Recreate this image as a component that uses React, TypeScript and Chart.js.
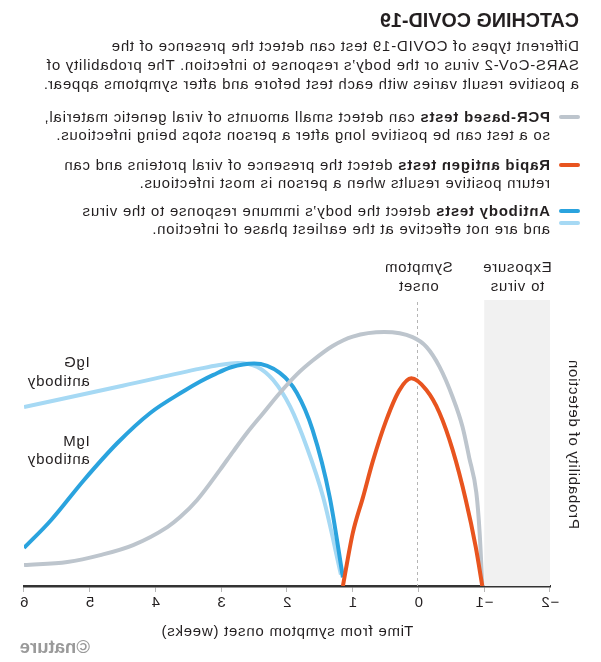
import React, { useEffect, useLayoutEffect, useRef } from "react";
import { Chart, registerables } from "chart.js";
Chart.register(...registerables);

// ---------- data ----------
const xTickValues = [-2, -1, 0, 1, 2, 3, 4, 5, 6];
const xTickLabels = ["−2", "−1", "0", "1", "2", "3", "4", "5", "6"];

const pcrWeeks = [-0.97, -0.93, -0.88, -0.77, -0.67, -0.52, -0.32, -0.12, 0.09, 0.52, 1.0, 1.3, 1.6, 1.85, 2.11, 2.36, 2.61, 2.82, 3.02, 3.37, 3.63, 3.82, 4.34, 4.84, 5.34, 6.0];
const pcrProb = [0.0, 0.185, 0.325, 0.45, 0.556, 0.66, 0.766, 0.836, 0.87, 0.888, 0.872, 0.84, 0.79, 0.74, 0.675, 0.605, 0.535, 0.47, 0.406, 0.3, 0.24, 0.206, 0.143, 0.108, 0.084, 0.073];

const antigenWeeks = [-0.97, -0.87, -0.72, -0.52, -0.32, -0.12, 0.11, 0.29, 0.49, 0.69, 0.845, 1.0, 1.15];
const antigenProb = [0.0, 0.137, 0.3, 0.475, 0.605, 0.685, 0.726, 0.685, 0.58, 0.44, 0.31, 0.185, 0.0];

const igmWeeks = [1.15, 1.35, 1.61, 1.85, 2.11, 2.5, 2.85, 3.12, 3.32, 3.58, 4.08, 4.58, 5.09, 5.59, 6.0];
const igmProb = [0.03, 0.31, 0.545, 0.675, 0.745, 0.778, 0.765, 0.738, 0.715, 0.68, 0.605, 0.5, 0.37, 0.23, 0.133];

const iggWeeks = [1.18, 1.45, 1.7, 1.95, 2.21, 2.45, 2.75, 3.05, 3.32, 4.5, 6.0];
const iggProb = [0.04, 0.31, 0.486, 0.626, 0.72, 0.766, 0.78, 0.772, 0.76, 0.7, 0.626];

const titleText = "CATCHING COVID-19";
const introLines = [
  "Different types of COVID-19 test can detect the presence of the",
  "SARS-CoV-2 virus or the body’s response to infection. The probability of",
  "a positive result varies with each test before and after symptoms appear.",
];
const legendItems = [
  { bold: "PCR-based tests", rest: " can detect small amounts of viral genetic material,", line2: "so a test can be positive long after a person stops being infectious." },
  { bold: "Rapid antigen tests", rest: " detect the presence of viral proteins and can", line2: "return positive results when a person is most infectious." },
  { bold: "Antibody tests", rest: " detect the body’s immune response to the virus", line2: "and are not effective at the earliest phase of infection." },
];

const C_PCR = "#bdc5cd";
const C_ANT = "#e8541f";
const C_IGM = "#2aa3de";
const C_IGG = "#a6d9f4";
const TXT = "#231f20";
const FONT = "'Liberation Sans', Arial, Helvetica, sans-serif";
const LS = "0.75px";

const toPts = (xs: number[], ys: number[]) => xs.map((x, i) => ({ x, y: ys[i] }));

const overlayPlugin = {
  id: "overlay",
  beforeDraw(chart: any) {
    (chart.ctx as any).letterSpacing = LS;
  },
  beforeDatasetsDraw(chart: any) {
    const { ctx, chartArea, scales } = chart;
    const xs = scales.x;
    ctx.save();
    const x1 = xs.getPixelForValue(-2);
    const x2 = xs.getPixelForValue(-1);
    ctx.fillStyle = "#f1f1f1";
    ctx.fillRect(x1, chartArea.top, x2 - x1, chartArea.bottom - chartArea.top);
    const x0 = Math.round(xs.getPixelForValue(0)) + 0.5;
    ctx.strokeStyle = "#b5b5b5";
    ctx.lineWidth = 1;
    ctx.setLineDash([3, 3]);
    ctx.beginPath();
    ctx.moveTo(x0, chartArea.top + 2);
    ctx.lineTo(x0, chartArea.bottom);
    ctx.stroke();
    ctx.restore();
  },
  afterDraw(chart: any) {
    const { ctx, chartArea, scales } = chart;
    const xs = scales.x;
    const ys = scales.y;
    ctx.save();
    (ctx as any).letterSpacing = LS;
    ctx.fillStyle = TXT;
    ctx.font = `15px ${FONT}`;
    ctx.textBaseline = "middle";
    ctx.textAlign = "center";
    const xs0 = xs.getPixelForValue(0);
    ctx.fillText("Symptom", xs0, chartArea.top - 32);
    ctx.fillText("onset", xs0, chartArea.top - 13);
    const xe = xs.getPixelForValue(-1.5);
    ctx.fillText("Exposure", xe, chartArea.top - 32);
    ctx.fillText("to virus", xe, chartArea.top - 13);
    ctx.textAlign = "left";
    const xl = xs.getPixelForValue(5);
    const yG = ys.getPixelForValue(0.78);
    ctx.fillText("IgG", xl, yG);
    ctx.fillText("antibody", xl, yG + 19);
    const yM = ys.getPixelForValue(0.504);
    ctx.fillText("IgM", xl, yM);
    ctx.fillText("antibody", xl, yM + 18);
    // y-axis title
    ctx.translate(28, (chartArea.top + chartArea.bottom) / 2 + 1);
    ctx.rotate(-Math.PI / 2);
    ctx.textAlign = "center";
    ctx.fillText("Probability of detection", 0, 0);
    ctx.restore();
  },
};

function ChartCanvas() {
  const ref = useRef<HTMLCanvasElement | null>(null);
  useEffect(() => {
    if (!ref.current) return;
    const common = {
      showLine: true,
      pointRadius: 0,
      borderWidth: 4,
      fill: false,
      cubicInterpolationMode: "monotone" as const,
      borderJoinStyle: "round" as const,
    };
    const chart = new Chart(ref.current, {
      type: "line",
      data: {
        datasets: [
          { ...common, label: "Rapid antigen", data: toPts(antigenWeeks, antigenProb), borderColor: C_ANT, order: 0 },
          { ...common, label: "PCR", data: toPts(pcrWeeks, pcrProb), borderColor: C_PCR, order: 1 },
          { ...common, label: "IgM", data: toPts(igmWeeks, igmProb), borderColor: C_IGM, order: 2 },
          { ...common, label: "IgG", data: toPts(iggWeeks, iggProb), borderColor: C_IGG, order: 3 },
        ],
      },
      options: {
        animation: false,
        responsive: false,
        events: [],
        layout: { padding: { left: 51, right: 24, top: 300, bottom: 0 } },
        plugins: { legend: { display: false }, tooltip: { enabled: false } },
        scales: {
          x: {
            type: "linear",
            min: -2,
            max: 6,
            afterFit(scale: any) {
              scale.height = 76;
            },
            afterBuildTicks(scale: any) {
              scale.ticks = xTickValues.map((v) => ({ value: v }));
            },
            ticks: {
              font: { size: 15, family: FONT },
              color: TXT,
              padding: 2,
              maxRotation: 0,
              autoSkip: false,
              callback: (v: any) => {
                const i = xTickValues.indexOf(Number(v));
                return i >= 0 ? xTickLabels[i] : "";
              },
            },
            grid: { display: true, drawOnChartArea: false, drawTicks: true, tickLength: 6, color: "#b8b8b8", lineWidth: 1 },
            border: { display: true, color: "#333333", width: 2.5 },
            title: {
              display: true,
              text: "Time from symptom onset (weeks)",
              font: { size: 15, family: FONT },
              color: TXT,
              padding: { top: 0, bottom: 21 },
            },
          },
          y: { display: false, min: 0, max: 1 },
        },
      },
      plugins: [overlayPlugin],
    });
    return () => chart.destroy();
  }, []);
  return <canvas ref={ref} width={601} height={662} style={{ position: "absolute", left: 0, top: 0, width: 601, height: 662 }} />;
}

function FitText({ width, style, children }: { width: number; style: any; children: any }) {
  const ref = useRef<HTMLDivElement | null>(null);
  useLayoutEffect(() => {
    const el = ref.current;
    if (!el) return;
    el.style.transform = "none";
    const w = el.offsetWidth;
    if (w > 0) el.style.transform = `scaleX(${width / w})`;
  }, [width]);
  return (
    <div ref={ref} style={{ ...style, display: "inline-block", transformOrigin: "0 0", whiteSpace: "nowrap" }}>
      {children}
    </div>
  );
}

export default function App() {
  const bodyText = { fontSize: 15, letterSpacing: LS, whiteSpace: "nowrap" as const };
  return (
    <div
      style={{
        position: "fixed",
        left: 0,
        top: 0,
        width: 601,
        height: 662,
        background: "#fff",
        transform: "scaleX(-1)",
        fontFamily: FONT,
        color: TXT,
        overflow: "hidden",
      }}
    >
      <ChartCanvas />
      <div style={{ position: "absolute", left: 22, top: 6 }}>
        <FitText width={199} style={{ fontFamily: FONT, fontWeight: 700, fontSize: 20, lineHeight: "28px", letterSpacing: "0px" }}>
          {titleText}
        </FitText>
      </div>
      <div style={{ position: "absolute", left: 22, top: 35.5, lineHeight: "19px", ...bodyText }}>
        {introLines.map((l, i) => (
          <div key={i}>{l}</div>
        ))}
      </div>
      {legendItems.map((it, i) => {
        const top = [108, 156, 202][i];
        return (
          <div key={i} style={{ position: "absolute", left: 51, top, lineHeight: "18px", ...bodyText }}>
            <div>
              <b>{it.bold}</b>
              {it.rest}
            </div>
            <div>{it.line2}</div>
          </div>
        );
      })}
      <div style={{ position: "absolute", left: 21, top: 115, width: 21, height: 4, borderRadius: 2, background: C_PCR }} />
      <div style={{ position: "absolute", left: 21, top: 163, width: 21, height: 4, borderRadius: 2, background: C_ANT }} />
      <div style={{ position: "absolute", left: 21, top: 209, width: 21, height: 4, borderRadius: 2, background: C_IGM }} />
      <div style={{ position: "absolute", left: 21, top: 221, width: 21, height: 4, borderRadius: 2, background: C_IGG }} />
      <div style={{ position: "absolute", left: 511, top: 636 }}>
        <FitText width={70} style={{ fontSize: 18, lineHeight: "22px", fontWeight: 700, color: "#9a9a9a", fontFamily: FONT }}>
          ©nature
        </FitText>
      </div>
    </div>
  );
}
